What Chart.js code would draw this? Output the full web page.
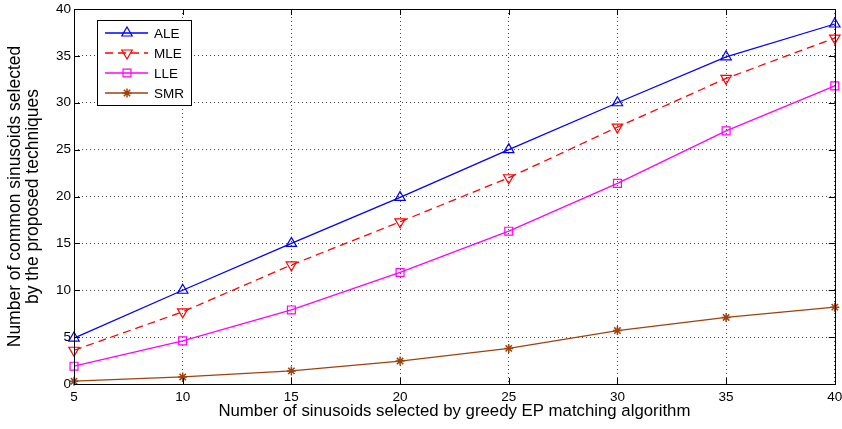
<!DOCTYPE html>
<html>
<head>
<meta charset="utf-8">
<script src="https://cdn.jsdelivr.net/npm/chart.js@4"></script>
<style>
  html, body { margin: 0; padding: 0; background: #fff; }
  #wrap { width: 842px; height: 429px; position: relative; }
</style>
</head>
<body>
<div id="wrap"><canvas id="epChart"></canvas></div>
<script>
const selected = [5, 10, 15, 20, 25, 30, 35, 40];
const ale = [4.9, 10.0, 15.0, 19.9, 25.0, 30.0, 34.9, 38.4];
const mle = [3.6, 7.7, 12.7, 17.3, 22.0, 27.4, 32.6, 36.9];
const lle = [1.9, 4.6, 7.9, 11.9, 16.3, 21.4, 27.0, 31.8];
const smr = [0.3, 0.75, 1.4, 2.45, 3.8, 5.7, 7.1, 8.2];
const yTicks = [0, 5, 10, 15, 20, 25, 30, 35, 40];

const font = "'Liberation Sans', Arial, sans-serif";

function pts(arr) {
  return arr.map((v, i) => ({ x: selected[i], y: v }));
}

// matlab style box, inward ticks and legend
const matlabBox = {
  id: "matlabBox",
  afterDatasetsDraw(chart) {
    const { ctx, chartArea: a, scales } = chart;
    ctx.save();
    ctx.strokeStyle = "#000";
    ctx.lineWidth = 1;
    ctx.beginPath();
    scales.x.ticks.forEach((t) => {
      const px = Math.round(scales.x.getPixelForValue(t.value)) + 0.5;
      ctx.moveTo(px, a.bottom); ctx.lineTo(px, a.bottom - 6);
      ctx.moveTo(px, a.top); ctx.lineTo(px, a.top + 6);
    });
    scales.y.ticks.forEach((t) => {
      const py = Math.round(scales.y.getPixelForValue(t.value)) + 0.5;
      ctx.moveTo(a.left, py); ctx.lineTo(a.left + 6, py);
      ctx.moveTo(a.right, py); ctx.lineTo(a.right - 6, py);
    });
    ctx.stroke();
    ctx.strokeRect(Math.round(a.left) + 0.5, Math.round(a.top) + 0.5,
      Math.round(a.right - a.left), Math.round(a.bottom - a.top));

    // legend
    const lx = a.left + 23, ly = a.top + 11, lw = 94, lh = 85;
    ctx.fillStyle = "#fff";
    ctx.fillRect(lx, ly, lw, lh);
    ctx.strokeRect(lx + 0.5, ly + 0.5, lw, lh);
    ctx.textBaseline = "middle";
    chart.data.datasets.forEach((ds, i) => {
      const y = ly + 13 + i * 20;
      ctx.strokeStyle = ds.borderColor;
      ctx.lineWidth = 1.3;
      ctx.setLineDash(ds.borderDash || []);
      ctx.beginPath();
      ctx.moveTo(lx + 8, y); ctx.lineTo(lx + 51, y);
      ctx.stroke();
      ctx.setLineDash([]);
      ctx.fillStyle = "rgba(0,0,0,0)";
      ctx.lineWidth = ds.pointBorderWidth;
      Chart.helpers.drawPoint(ctx, {
        pointStyle: ds.pointStyle,
        rotation: ds.pointRotation || 0,
        radius: ds.pointRadius,
        borderWidth: ds.pointBorderWidth,
      }, lx + 30, y);
      ctx.fillStyle = "#000";
      ctx.font = "13.5px " + font;
      ctx.fillText(ds.label, lx + 57, y + 1);
    });
    ctx.restore();
  },
};

const common = {
  borderWidth: 1.3,
  pointRadius: 6,
  pointBorderWidth: 1.2,
  pointBackgroundColor: "rgba(0,0,0,0)",
  tension: 0,
};

new Chart(document.getElementById("epChart"), {
  type: "line",
  data: {
    datasets: [
      { ...common, label: "ALE", data: pts(ale), borderColor: "#0000ff", pointStyle: "triangle" },
      { ...common, label: "MLE", data: pts(mle), borderColor: "#ff0000", borderDash: [8, 5], pointStyle: "triangle", pointRotation: 180 },
      { ...common, label: "LLE", data: pts(lle), borderColor: "#ff00ff", pointStyle: "rect", pointRadius: 5.6 },
      { ...common, label: "SMR", data: pts(smr), borderColor: "#a0410d", pointStyle: "star", pointRadius: 4.5, pointBorderWidth: 1.5 },
    ],
  },
  options: {
    responsive: true,
    maintainAspectRatio: false,
    animation: false,
    clip: false,
    layout: { padding: { left: 0, right: 6, top: 9, bottom: 0 } },
    plugins: {
      legend: { display: false },
      tooltip: { enabled: false },
    },
    scales: {
      x: {
        type: "linear",
        min: 5,
        max: 40,
        afterBuildTicks: (s) => { s.ticks = selected.map((v) => ({ value: v })); },
        afterFit: (s) => { s.height = 45; s.paddingLeft = 0; s.paddingRight = 0; },
        ticks: { color: "#000", padding: 5, font: { size: 13.5, family: font } },
        grid: { color: "#444", drawTicks: false, lineWidth: 1 },
        border: { display: false, dash: [1, 3] },
        title: {
          display: true,
          text: "Number of sinusoids selected by greedy EP matching algorithm",
          color: "#000",
          padding: { top: 0, bottom: 8 },
          font: { size: 16.8, family: font },
        },
      },
      y: {
        min: 0,
        max: 40,
        afterBuildTicks: (s) => { s.ticks = yTicks.map((v) => ({ value: v })); },
        afterFit: (s) => { s.width = 74; s.paddingTop = 0; s.paddingBottom = 0; },
        ticks: { color: "#000", padding: 3, font: { size: 13.5, family: font } },
        grid: { color: "#444", drawTicks: false, lineWidth: 1 },
        border: { display: false, dash: [1, 3] },
        title: {
          display: true,
          text: ["Number of common sinusoids selected", "by the proposed techniques"],
          color: "#000",
          padding: { top: 6, bottom: 0 },
          font: { size: 17.5, family: font, lineHeight: 1.03 },
        },
      },
    },
  },
  plugins: [matlabBox],
});
</script>
</body>
</html>
